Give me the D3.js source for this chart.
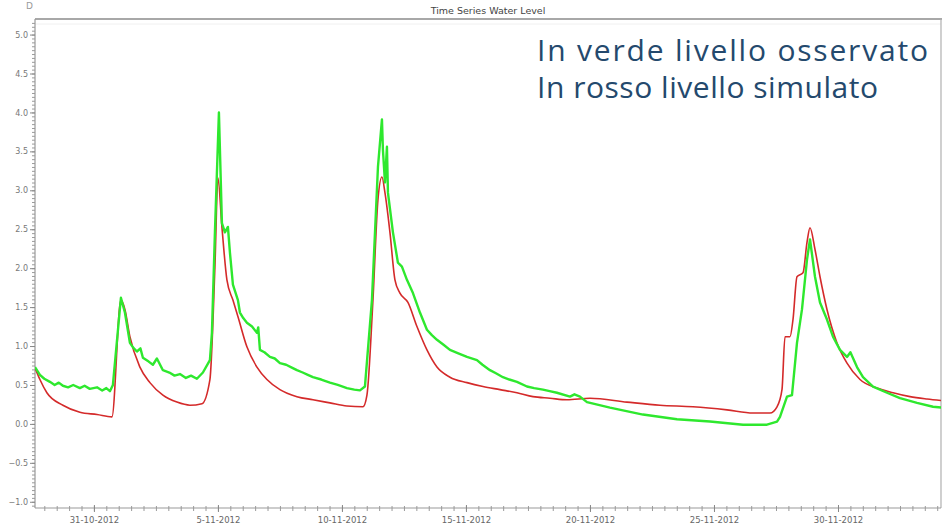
<!DOCTYPE html>
<html>
<head>
<meta charset="utf-8">
<script src="https://cdn.jsdelivr.net/npm/d3@7"></script>
<style>
  html, body { margin: 0; padding: 0; background: #fff; }
  svg { display: block; }
</style>
</head>
<body>
<svg id="chart" width="945" height="530"></svg>
<script>
// Simulated water level (red)
const simTime = [
  "2012-10-28 15:00","2012-10-28 19:45","2012-10-29 02:30","2012-10-29 18:00","2012-10-30 10:26",
  "2012-10-31 03:00","2012-10-31 17:25","2012-11-01 02:08","2012-11-01 06:00","2012-11-01 10:50",
  "2012-11-01 20:31","2012-11-02 06:11","2012-11-02 18:46","2012-11-03 08:20","2012-11-03 20:54",
  "2012-11-04 08:31","2012-11-04 16:15","2012-11-04 21:06","2012-11-05 00:00","2012-11-05 03:52",
  "2012-11-05 08:42","2012-11-05 14:31","2012-11-05 19:21","2012-11-06 04:03","2012-11-06 13:45",
  "2012-11-06 23:25","2012-11-07 12:00","2012-11-08 04:27","2012-11-08 19:57","2012-11-09 12:23",
  "2012-11-10 04:50","2012-11-10 20:20","2012-11-11 00:12","2012-11-11 06:00","2012-11-11 10:51",
  "2012-11-11 14:43","2012-11-11 17:37","2012-11-11 22:27","2012-11-12 03:17","2012-11-12 08:08",
  "2012-11-12 15:52","2012-11-13 00:35","2012-11-13 10:15","2012-11-13 19:57","2012-11-14 08:31",
  "2012-11-15 01:00","2012-11-15 16:27","2012-11-16 08:54","2012-11-17 01:21","2012-11-17 16:51",
  "2012-11-18 09:17","2012-11-19 01:45","2012-11-20 00:00","2012-11-21 11:48","2012-11-22 19:45",
  "2012-11-24 03:40","2012-11-25 12:35","2012-11-26 13:45","2012-11-27 06:12","2012-11-27 13:00",
  "2012-11-27 17:48","2012-11-27 20:43","2012-11-28 01:33","2012-11-28 04:27","2012-11-28 08:19",
  "2012-11-28 14:08","2012-11-28 18:00","2012-11-28 20:54","2012-11-29 01:45","2012-11-29 06:35",
  "2012-11-29 13:20","2012-11-29 23:02","2012-11-30 08:43","2012-11-30 21:17","2012-12-01 13:45",
  "2012-12-02 05:14","2012-12-02 21:40","2012-12-03 14:08","2012-12-04 04:39"
];
const simLevel = [
  0.72, 0.57, 0.40, 0.24, 0.15,
  0.12, 0.09, 1.59, 1.47, 1.12,
  0.73, 0.53, 0.37, 0.28, 0.24,
  0.26, 0.57, 2.02, 3.16, 2.53,
  1.85, 1.59, 1.38, 0.99, 0.73,
  0.57, 0.44, 0.35, 0.31, 0.27,
  0.23, 0.22, 0.37, 1.59, 2.88,
  3.17, 2.97, 2.46, 1.85, 1.68,
  1.56, 1.25, 0.95, 0.73, 0.60,
  0.53, 0.48, 0.44, 0.40, 0.35,
  0.33, 0.31, 0.33, 0.28, 0.24,
  0.22, 0.18, 0.14, 0.14, 0.22,
  0.44, 1.12, 1.12, 1.34, 1.89,
  1.94, 2.33, 2.52, 2.24, 1.89,
  1.47, 1.04, 0.78, 0.57, 0.46,
  0.40, 0.35, 0.32, 0.30
];

// Observed water level (green)
const obsTime = [
  "2012-10-28 15:00","2012-10-28 19:45","2012-10-29 00:00","2012-10-29 05:25","2012-10-29 10:00",
  "2012-10-29 14:00","2012-10-29 18:00","2012-10-29 23:00","2012-10-30 04:00","2012-10-30 10:26",
  "2012-10-30 15:00","2012-10-30 20:00","2012-10-31 03:00","2012-10-31 08:00","2012-10-31 12:00",
  "2012-10-31 15:29","2012-10-31 18:23","2012-11-01 02:08","2012-11-01 06:00","2012-11-01 10:50",
  "2012-11-01 14:00","2012-11-01 17:37","2012-11-01 21:00","2012-11-01 23:25","2012-11-02 05:00",
  "2012-11-02 09:05","2012-11-02 12:58","2012-11-02 18:46","2012-11-03 01:00","2012-11-03 06:00",
  "2012-11-03 11:14","2012-11-03 17:00","2012-11-03 22:00","2012-11-04 03:40","2012-11-04 09:29",
  "2012-11-04 16:15","2012-11-04 18:12","2012-11-04 21:06","2012-11-05 00:58","2012-11-05 03:52",
  "2012-11-05 06:46","2012-11-05 09:40","2012-11-05 11:37","2012-11-05 14:31","2012-11-05 19:21",
  "2012-11-05 21:17","2012-11-06 00:30","2012-11-06 04:03","2012-11-06 09:00","2012-11-06 13:45",
  "2012-11-06 15:00","2012-11-06 16:39","2012-11-06 21:00","2012-11-07 02:20","2012-11-07 07:00",
  "2012-11-07 12:00","2012-11-07 18:00","2012-11-08 00:00","2012-11-08 04:27","2012-11-08 10:00",
  "2012-11-08 15:00","2012-11-08 19:57","2012-11-09 04:00","2012-11-09 12:23","2012-11-09 20:00",
  "2012-11-10 04:50","2012-11-10 12:00","2012-11-10 17:25","2012-11-10 22:15","2012-11-11 05:02",
  "2012-11-11 10:51","2012-11-11 14:43","2012-11-11 15:40","2012-11-11 17:37","2012-11-11 19:33",
  "2012-11-11 20:31","2012-11-12 01:21","2012-11-12 06:11","2012-11-12 10:03","2012-11-12 14:54",
  "2012-11-12 20:43","2012-11-13 03:29","2012-11-13 10:15","2012-11-13 15:00","2012-11-13 19:57",
  "2012-11-14 02:00","2012-11-14 08:31","2012-11-14 16:00","2012-11-15 01:00","2012-11-15 10:39",
  "2012-11-15 16:00","2012-11-15 23:14","2012-11-16 05:00","2012-11-16 11:48","2012-11-16 18:00",
  "2012-11-17 01:21","2012-11-17 11:02","2012-11-17 18:00","2012-11-18 02:31","2012-11-18 09:00",
  "2012-11-18 16:03","2012-11-19 04:39","2012-11-19 09:00","2012-11-19 14:19","2012-11-19 21:06",
  "2012-11-20 19:21","2012-11-22 03:17","2012-11-23 12:12","2012-11-24 20:08","2012-11-26 04:03",
  "2012-11-27 03:17","2012-11-27 13:00","2012-11-27 15:52","2012-11-27 22:39","2012-11-28 03:29",
  "2012-11-28 08:19","2012-11-28 13:09","2012-11-28 18:00","2012-11-28 20:54","2012-11-29 01:45",
  "2012-11-29 06:35","2012-11-29 13:20","2012-11-29 19:09","2012-11-30 01:57","2012-11-30 08:43",
  "2012-11-30 12:00","2012-11-30 18:23","2012-12-01 00:12","2012-12-01 09:52","2012-12-01 23:25",
  "2012-12-02 12:00","2012-12-03 04:27","2012-12-03 19:57","2012-12-04 04:39"
];
const obsLevel = [
  0.73, 0.63, 0.58, 0.54, 0.50,
  0.53, 0.49, 0.47, 0.50, 0.46,
  0.49, 0.45, 0.47, 0.43, 0.46,
  0.42, 0.50, 1.62, 1.43, 1.04,
  0.98, 0.93, 0.97, 0.85, 0.80,
  0.76, 0.84, 0.69, 0.66, 0.62,
  0.64, 0.59, 0.62, 0.58, 0.66,
  0.82, 1.17, 2.46, 4.00, 2.58,
  2.46, 2.53, 2.20, 1.79, 1.59,
  1.43, 1.36, 1.30, 1.25, 1.17,
  1.24, 0.95, 0.92, 0.86, 0.84,
  0.78, 0.76, 0.72, 0.69, 0.66,
  0.63, 0.60, 0.57, 0.53, 0.50,
  0.46, 0.44, 0.43, 0.48, 1.59,
  3.30, 3.91, 3.52, 3.10, 3.56,
  2.97, 2.46, 2.07, 2.02, 1.85,
  1.68, 1.43, 1.21, 1.14, 1.08,
  1.02, 0.95, 0.91, 0.86, 0.82,
  0.76, 0.69, 0.65, 0.60, 0.57,
  0.54, 0.48, 0.46, 0.44, 0.42,
  0.40, 0.35, 0.38, 0.35, 0.28,
  0.21, 0.12, 0.06, 0.03, -0.01,
  -0.01, 0.03, 0.09, 0.35, 0.37,
  1.04, 1.47, 2.11, 2.37, 1.89,
  1.56, 1.34, 1.12, 0.95, 0.86,
  0.92, 0.73, 0.60, 0.48, 0.40,
  0.33, 0.27, 0.22, 0.21
];

// Axis ticks
const yMajorTicks = [-1.0, -0.5, 0.0, 0.5, 1.0, 1.5, 2.0, 2.5, 3.0, 3.5, 4.0, 4.5, 5.0];
const xMajorTicks = ["2012-10-31","2012-11-05","2012-11-10","2012-11-15","2012-11-20","2012-11-25","2012-11-30"];

const chartTitle = "Time Series Water Level";
const noteLines = ["In verde livello osservato", "In rosso livello simulato"];

const parseTime = d3.timeParse("%Y-%m-%d %H:%M");
const parseDay = d3.timeParse("%Y-%m-%d");

const sim = simTime.map((t, i) => ({ t: parseTime(t), v: simLevel[i] }));
const obs = obsTime.map((t, i) => ({ t: parseTime(t), v: obsLevel[i] }));

const svg = d3.select("#chart");
const plot = { left: 35, right: 941, top: 19, bottom: 508 };

const x = d3.scaleTime()
  .domain([parseTime("2012-10-28 15:00"), parseTime("2012-12-04 03:40")])
  .range([plot.left, plot.right]);
const y = d3.scaleLinear()
  .domain([-1.08, 5.2])
  .range([plot.bottom, plot.top]);

// Frame: top band and right edge
svg.append("line")
  .attr("x1", plot.left).attr("x2", plot.right + 1)
  .attr("y1", plot.top).attr("y2", plot.top)
  .attr("stroke", "#a8a8a8").attr("stroke-width", 2);
svg.append("line")
  .attr("x1", plot.left).attr("x2", plot.right)
  .attr("y1", plot.top + 5).attr("y2", plot.top + 5)
  .attr("stroke", "#f0f0f0").attr("stroke-width", 1);
svg.append("line")
  .attr("x1", plot.right).attr("x2", plot.right)
  .attr("y1", plot.top).attr("y2", plot.bottom)
  .attr("stroke", "#b0b0b0").attr("stroke-width", 1.2);

// Title and small corner glyph
svg.append("text")
  .attr("x", 488).attr("y", 14)
  .attr("text-anchor", "middle")
  .attr("font-family", "DejaVu Sans, sans-serif")
  .attr("font-size", 9.5)
  .attr("fill", "#444")
  .text(chartTitle);
svg.append("text")
  .attr("x", 26).attr("y", 9)
  .attr("font-family", "DejaVu Sans, sans-serif")
  .attr("font-size", 9)
  .attr("fill", "#999")
  .text("D");

// Y axis: minor then major ticks
const yMinor = d3.range(-1.05, 5.2, 0.05).map(v => Math.round(v * 100) / 100);
svg.append("g")
  .attr("transform", `translate(${plot.left},0)`)
  .call(d3.axisLeft(y).tickValues(yMinor).tickSize(3).tickFormat(""))
  .call(g => g.select(".domain").remove())
  .call(g => g.selectAll("line").attr("stroke", "#9a9a9a"));
svg.append("g")
  .attr("transform", `translate(${plot.left},0)`)
  .call(d3.axisLeft(y).tickValues(yMajorTicks).tickSize(5).tickPadding(2).tickFormat(d3.format(".1f")))
  .call(g => g.select(".domain").attr("stroke", "#999").attr("stroke-width", 1.2)
    .attr("d", `M0,${plot.top}V${plot.bottom}`))
  .call(g => g.selectAll("line").attr("stroke", "#888"))
  .call(g => g.selectAll("text")
    .attr("font-family", "DejaVu Sans, sans-serif")
    .attr("font-size", 8)
    .attr("fill", "#777"));

// X axis: 12-hour minor ticks, 5-day labelled ticks
const xMinor = d3.timeHour.every(12).range(x.domain()[0], x.domain()[1]);
svg.append("g")
  .attr("transform", `translate(0,${plot.bottom})`)
  .call(d3.axisBottom(x).tickValues(xMinor).tickSize(3).tickFormat(""))
  .call(g => g.select(".domain").remove())
  .call(g => g.selectAll("line").attr("stroke", "#9a9a9a").attr("y1", -2));
svg.append("g")
  .attr("transform", `translate(0,${plot.bottom})`)
  .call(d3.axisBottom(x).tickValues(xMajorTicks.map(parseDay)).tickSize(4).tickPadding(5)
    .tickFormat(d3.timeFormat("%-d-%m-%Y")))
  .call(g => g.select(".domain").attr("stroke", "#999").attr("stroke-width", 1.2)
    .attr("d", `M${plot.left},0H${plot.right}`))
  .call(g => g.selectAll("line").attr("stroke", "#888").attr("y1", -3))
  .call(g => g.selectAll("text")
    .attr("font-family", "DejaVu Sans, sans-serif")
    .attr("font-size", 8.5)
    .attr("fill", "#666"));

// Series
svg.append("clipPath").attr("id", "plotClip")
  .append("rect")
  .attr("x", plot.left).attr("y", plot.top)
  .attr("width", plot.right - plot.left).attr("height", plot.bottom - plot.top);

const simLine = d3.line().x(d => x(d.t)).y(d => y(d.v)).curve(d3.curveMonotoneX);
const obsLine = d3.line().x(d => x(d.t)).y(d => y(d.v));
const series = svg.append("g").attr("clip-path", "url(#plotClip)");

series.append("path")
  .datum(sim)
  .attr("fill", "none")
  .attr("stroke", "#d42a2a")
  .attr("stroke-width", 1.6)
  .attr("stroke-linejoin", "round")
  .attr("d", simLine);

series.append("path")
  .datum(obs)
  .attr("fill", "none")
  .attr("stroke", "#2ee82e")
  .attr("stroke-width", 2.4)
  .attr("stroke-linejoin", "round")
  .attr("d", obsLine);

// Annotation
const noteWidths = [391, 341];
const note = svg.append("text")
  .attr("font-family", "Open Sans, Liberation Sans, Arial, sans-serif")
  .attr("font-size", 30)
  .attr("fill", "#24496d");
noteLines.forEach((s, i) => {
  note.append("tspan")
    .attr("x", 537).attr("y", 61 + i * 37)
    .attr("textLength", noteWidths[i])
    .attr("lengthAdjust", "spacing")
    .text(s);
});
</script>
</body>
</html>
